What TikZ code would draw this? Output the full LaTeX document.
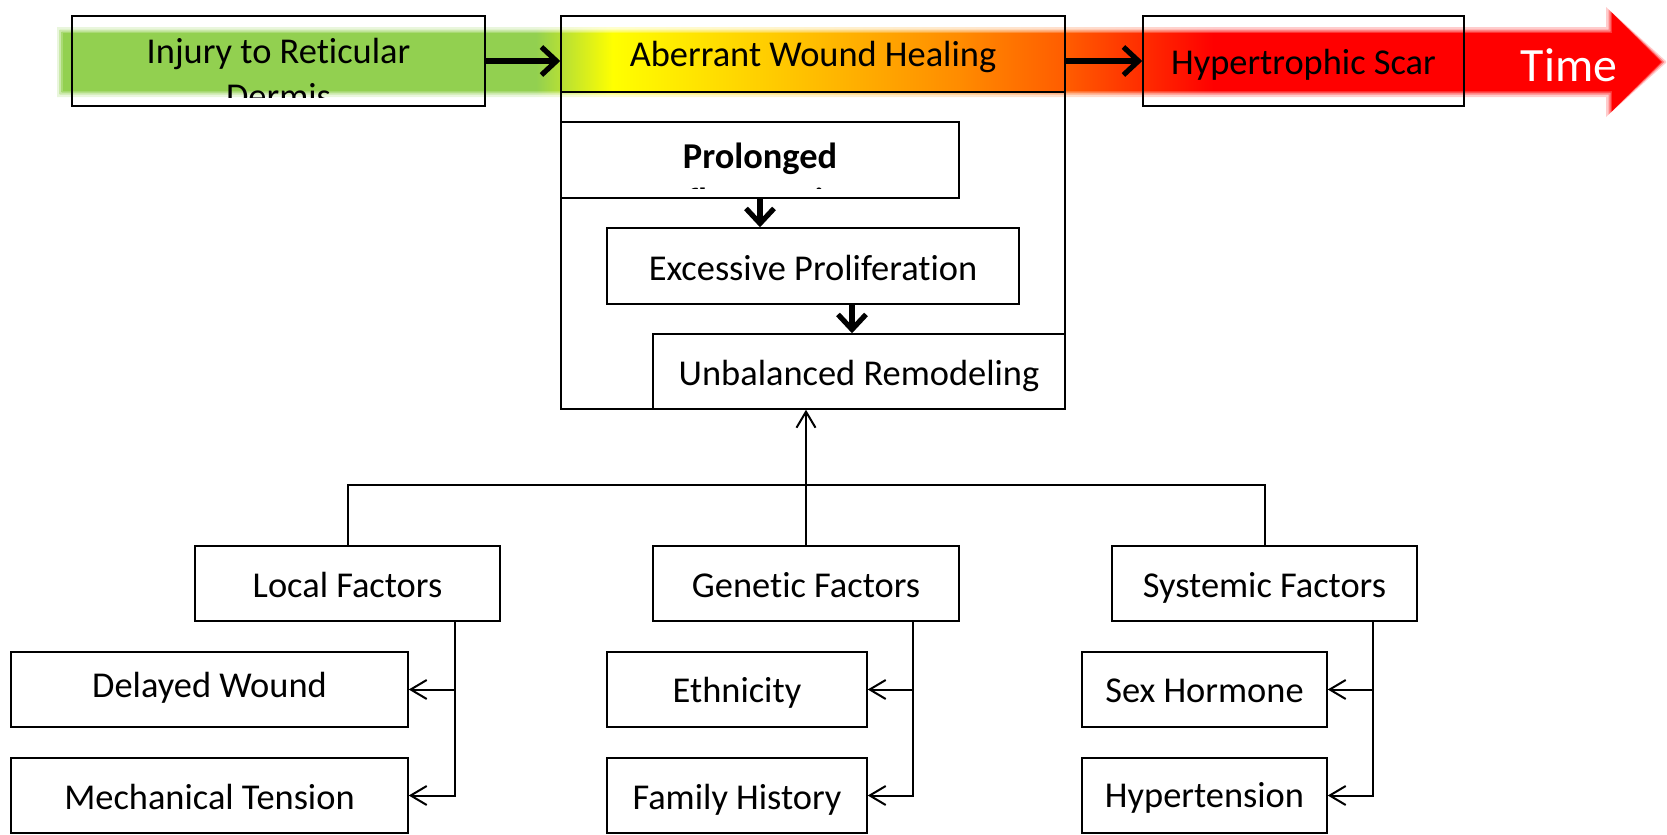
\documentclass[tikz,border=0pt]{standalone}
\usepackage{fontspec}
\setmainfont{Carlito}[Ligatures=NoCommon]
\usetikzlibrary{arrows.meta}
\definecolor{tgreen}{RGB}{146,208,80}
\definecolor{tyellow}{RGB}{255,255,0}
\definecolor{tyo}{RGB}{255,200,0}
\definecolor{torange}{RGB}{255,140,0}
\definecolor{tdorange}{RGB}{255,90,0}
\definecolor{tred}{RGB}{255,0,0}
\pgfdeclarehorizontalshading{timeshade}{100bp}{color(0bp)=(tgreen); color(39.8bp)=(tgreen); color(42.2bp)=(tyellow); color(47.5bp)=(tyo); color(53bp)=(torange); color(56.5bp)=(tdorange); color(61bp)=(tred); color(100bp)=(tred)}
\newcommand{\txtfont}{\fontsize{18.2}{22.5}\selectfont}
\newcommand{\tpathx}[1]{(63-#1,33-#1) -- (1612-#1,33-#1) -- (1612-#1,13-#1) -- (1661+#1,62) -- (1612-#1,111+#1) -- (1612-#1,91+#1) -- (63-#1,91+#1) -- cycle}
\tikzset{
  box/.style={draw, line width=0.75pt, inner sep=0pt, minimum height=37.5pt, text height=14pt, text depth=0pt, font=\txtfont},
  lbl/.style={inner sep=0pt, font=\txtfont, anchor=base},
  thickarr/.style={line width=2.6pt, -{Straight Barb[length=7.5pt,width=14pt]}},
  thinarr/.style={line width=1pt, -{Straight Barb[length=8pt,width=9.5pt]}},
  treeline/.style={line width=1pt},
}
\begin{document}
\begin{tikzpicture}[x=0.5pt,y=-0.5pt]
\useasboundingbox (0,0) rectangle (1667,835);
% time band
\shade[shading=timeshade, opacity=0.2] \tpathx{6};
\shade[shading=timeshade, opacity=0.35] \tpathx{3.5};
\shade[shading=timeshade, opacity=0.6] \tpathx{1.5};
\shade[shading=timeshade] \tpathx{0};
% top row
\node[box, minimum width=206.5pt, minimum height=45pt] (inj) at (278.5,61) {};
\begin{scope}
\clip (72,16) rectangle (485,97);
\node[lbl] (injA) at (278.5,63) {Injury to Reticular};
\node[lbl] (injB) at (278.5,108) {Dermis};
\end{scope}
\node[box, minimum width=252pt, minimum height=196.5pt] (aber) at (813,212.5) {};
\node[box, minimum width=252pt, minimum height=38pt, text height=13pt] (aberH) at (813,54) {Aberrant Wound Healing};
\node[box, minimum width=160.5pt, minimum height=45pt, text height=13pt] (hyp) at (1303.5,61) {Hypertrophic Scar};
\node[lbl, text=white, font=\fontsize{23.9}{28}\selectfont] (time) at (1569,82) {Time};
% inner stages
\node[box, minimum width=199pt, minimum height=38pt] (prol) at (760,160) {};
\begin{scope}
\clip (561,122) rectangle (959,188);
\node[lbl, font=\txtfont\bfseries] (prolA) at (760,168) {Prolonged};
\node[lbl, font=\txtfont\bfseries] (prolB) at (760,213) {Inflammation};
\end{scope}
\node[box, minimum width=206pt, minimum height=38pt] (exc) at (813,266) {Excessive Proliferation};
\node[box, minimum width=206pt] (unb) at (859,371.5) {Unbalanced Remodeling};
% factors
\node[box, minimum width=152.5pt] (local) at (347.5,583.5) {Local Factors};
\node[box, minimum width=153pt] (gen) at (806,583.5) {Genetic Factors};
\node[box, minimum width=152.5pt] (sys) at (1264.5,583.5) {Systemic Factors};
\node[box, minimum width=198.5pt, text height=8pt] (delayed) at (209.5,689.5) {Delayed Wound};
\node[box, minimum width=198.5pt] (mech) at (209.5,795.5) {Mechanical Tension};
\node[box, minimum width=130pt, text height=13pt] (eth) at (737,689.5) {Ethnicity};
\node[box, minimum width=130pt] (fam) at (737,795.5) {Family History};
\node[box, minimum width=122.5pt, text height=13pt] (sex) at (1204.5,689.5) {Sex Hormone};
\node[box, minimum width=122.5pt, text height=12pt] (hyper) at (1204.5,795.5) {Hypertension};
% connectors
\draw[thickarr] (inj.east) -- (inj.east -| aberH.west);
\draw[thickarr] (aberH.east |- hyp.west) -- (hyp.west);
\draw[thickarr] (prol.south) -- (prol.south |- exc.north);
\coordinate (eu) at ([xshift=-3.5pt]unb.north);
\draw[thickarr] (eu |- exc.south) -- (eu);
\draw[treeline] (local.north) -- ++(0,30pt) -| (sys.north);
\draw[thinarr] (gen.north) -- (gen.north |- unb.south);
\draw[thinarr] ([xshift=-23pt]local.south east) |- (delayed.east);
\draw[thinarr] ([xshift=-23pt]local.south east) |- (mech.east);
\draw[thinarr] ([xshift=-23.5pt]gen.south east) |- (eth.east);
\draw[thinarr] ([xshift=-23.5pt]gen.south east) |- (fam.east);
\draw[thinarr] ([xshift=-22.5pt]sys.south east) |- (sex.east);
\draw[thinarr] ([xshift=-22.5pt]sys.south east) |- (hyper.east);
\end{tikzpicture}
\end{document}
